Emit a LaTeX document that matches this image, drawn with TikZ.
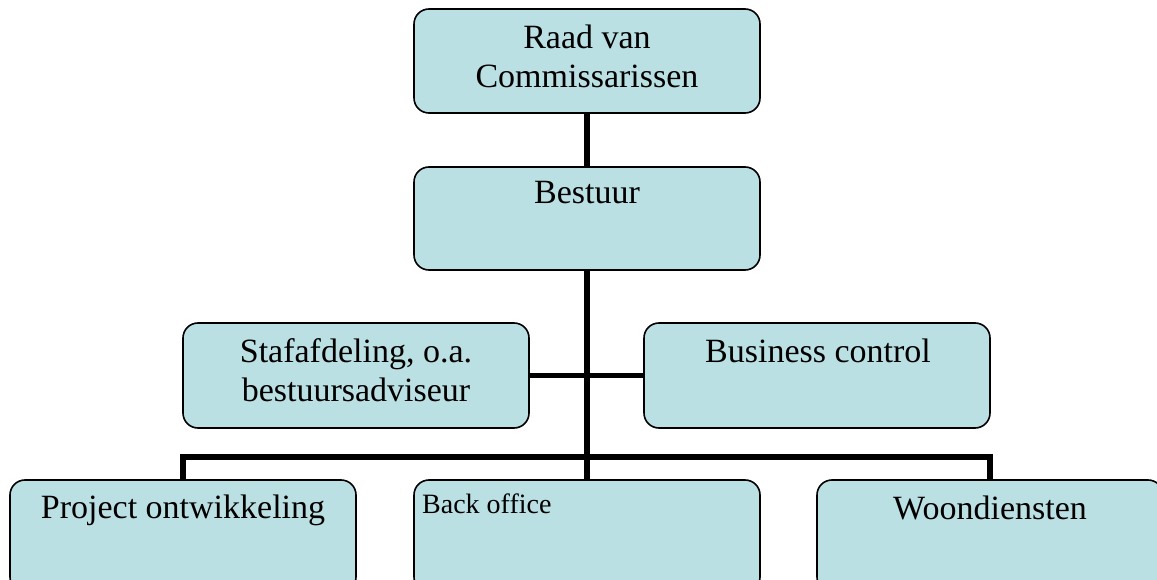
\documentclass[tikz,border=0pt]{standalone}
\usepackage{fontspec}
\setmainfont{Liberation Serif}
\usetikzlibrary{backgrounds}
\definecolor{boxfill}{RGB}{187,224,227}
\begin{document}
\begin{tikzpicture}[x=1pt,y=-1pt,
  orgbox/.style={draw=black, line width=1.6pt, fill=boxfill, rounded corners=15pt,
    minimum width=346pt, minimum height=104pt, inner sep=0pt, outer sep=0pt,
    anchor=north west},
  lbl/.style={font=\fontsize{34}{38.5}\selectfont, inner sep=0pt, align=center},
  small/.style={font=\fontsize{28}{32}\selectfont, inner sep=0pt},
  link/.style={line width=5.5pt, line join=miter}]
\useasboundingbox (0,0) rectangle (1157,580);
\clip (0,0) rectangle (1157,580);

% organisation boxes
\node[orgbox] (raad) at (414,9) {};
\node[orgbox, minimum height=103pt] (bestuur) at (414,167) {};
\node[orgbox, minimum height=105pt] (staf) at (183,323) {};
\node[orgbox, minimum height=105pt] (business) at (644,323) {};
\node[orgbox, minimum height=112pt] (project) at (10,480) {};
\node[orgbox, minimum height=112pt] (backoffice) at (414,480) {};
\node[orgbox, minimum height=112pt] (woon) at (817,480) {};

% connectors, behind the boxes
\coordinate (bus) at (587,457);
\begin{scope}[on background layer]
  \draw[link] (raad.south) -- (bestuur.north);
  \draw[link] (bestuur.south) -- (backoffice.north);
  \draw[link] (staf.east) -- (business.west);
  \draw[link] (project.north) |- (bus) -| (woon.north);
\end{scope}

% labels
\node[lbl, anchor=north] (raad-t) at (587,24.8) {Raad van\\Commissarissen};
\node[lbl, anchor=base] (bestuur-t) at (587,204) {Bestuur};
\node[lbl, anchor=north] (staf-t) at (356,338.8) {Stafafdeling, o.a.\\bestuursadviseur};
\node[lbl, anchor=base] (business-t) at (818,362) {Business control};
\node[lbl, anchor=base] (project-t) at (183,518) {Project ontwikkeling};
\node[small, anchor=base west] (backoffice-t) at (422,513) {Back office};
\node[lbl, anchor=base] (woon-t) at (990,519) {Woondiensten};
\end{tikzpicture}
\end{document}
